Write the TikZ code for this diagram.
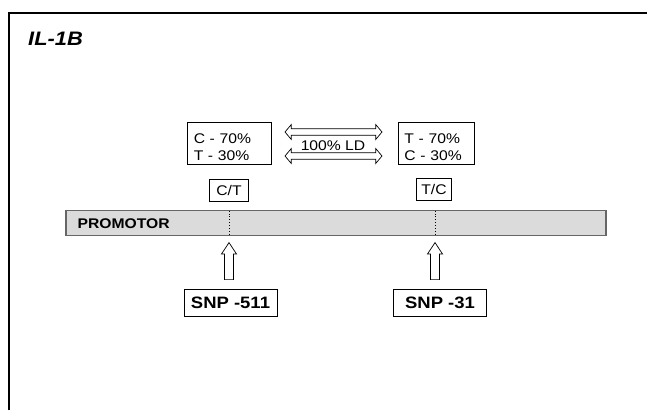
\documentclass[tikz,border=0pt]{standalone}
\usepackage{fontspec}
\setmainfont[FakeStretch=1.12]{Liberation Sans}
\usepackage{xcolor}
\usepackage{tikz}
\usetikzlibrary{shapes.arrows}

\tikzset{
  txtbox/.style={draw, line width=0.9pt, inner sep=0pt, font=\fontsize{14}{17.4}\selectfont},
  freqbox/.style={txtbox, anchor=base west, align=left, inner xsep=6.3pt,
    text height=20.6pt, text depth=21pt},
  snpbox/.style={draw, line width=0.9pt, minimum width=93pt, minimum height=27pt, inner sep=0pt,
    font=\fontsize{16.5}{18}\selectfont\bfseries},
  ldarrow/.style={double arrow, draw, fill=white, line width=0.7pt, minimum height=97pt,
    inner sep=2.85pt, double arrow head extend=4.15pt, double arrow tip angle=100},
  uparrow/.style={single arrow, draw, fill=white, line width=0.7pt, minimum height=37pt,
    inner sep=4.15pt, single arrow head extend=3.1pt, single arrow tip angle=67, rotate=90},
  bar/.style={draw=black!60, fill=black!14, line width=1.2pt, minimum width=540pt,
    minimum height=25.7pt, inner sep=0pt}
}

\begin{document}
\begin{tikzpicture}[x=1pt, y=-1pt]
  \useasboundingbox (0,0) rectangle (647,410);

  % Frame and title
  \draw[line width=1.1pt] (9,410) -- (9,13) -- (647,13);
  \node[font=\fontsize{19.5}{22}\selectfont\bfseries\itshape, anchor=base west, inner sep=0pt]
    (gene) at (28,45) {IL-1B};

  % Allele frequencies
  \node[freqbox, text width=71pt] (freq511) at (187,143.3) {C - 70\%\\T - 30\%};
  \node[freqbox, text width=64pt] (freq31) at (397.7,143.3) {T - 70\%\\C - 30\%};

  % Linkage
  \node[ldarrow] (ldtop) at (333.5,132) {};
  \node[ldarrow] (ldbot) at (333.5,156) {};
  \node[font=\fontsize{14}{16}\selectfont, inner sep=0pt] (ld) at (333,146) {100\% LD};

  % Genotypes
  \node[txtbox, minimum width=39pt, minimum height=22.4pt] (geno511) at (229,190.5) {C/T};
  \node[txtbox, minimum width=35pt, minimum height=22.4pt] (geno31) at (434,189.5) {T/C};

  % Promotor
  \node[bar] (promotor) at (336,223) {};
  \node[font=\fontsize{14}{16}\selectfont\bfseries, anchor=west, inner sep=0pt]
    (promlbl) at (77.5,223.5) {PROMOTOR};
  \foreach \x in {229,435.5} {
    \draw[dotted, line width=0.9pt] (\x,210.6) -- (\x,235.1);
  }

  % SNPs
  \node[uparrow] (arr511) at (229,264.5) {};
  \node[uparrow] (arr31) at (435,264.5) {};
  \node[snpbox] (snp511) at (230.5,302.5) {SNP -511};
  \node[snpbox] (snp31) at (440,302.5) {SNP -31};
\end{tikzpicture}
\end{document}
